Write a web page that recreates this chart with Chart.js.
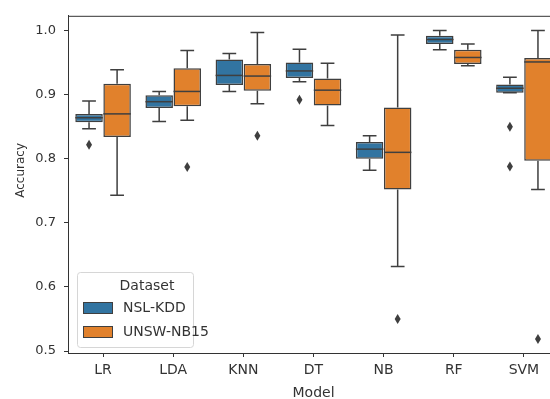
<!DOCTYPE html>
<html><head><meta charset="utf-8">
<script src="https://cdn.jsdelivr.net/npm/chart.js@4/dist/chart.umd.min.js"></script>
<style>
html,body{margin:0;padding:0;overflow:hidden;background:#fff;width:550px;height:399px}
#wrap{width:562px;height:399px;position:relative}
</style>
</head><body>
<div id="wrap"><canvas id="c"></canvas></div>
<script>
const models = ['LR','LDA','KNN','DT','NB','RF','SVM'];
const seriesNames = ['NSL-KDD','UNSW-NB15'];
const yTicks = [0.5,0.6,0.7,0.8,0.9,1.0];

// NSL-KDD box statistics
const nslWhiskerLow  = [0.847,0.858,0.905,0.920,0.782,0.970,0.903];
const nslQ1          = [0.857,0.879,0.915,0.926,0.800,0.979,0.903];
const nslMedian      = [0.864,0.889,0.930,0.937,0.815,0.986,0.910];
const nslQ3          = [0.870,0.899,0.955,0.950,0.826,0.992,0.916];
const nslWhiskerHigh = [0.890,0.905,0.964,0.971,0.836,1.000,0.927];
const nslOutliers    = [[0.822],[],[],[0.892],[],[],[0.850,0.788]];

// UNSW-NB15 box statistics
const unswWhiskerLow  = [0.743,0.860,0.886,0.852,0.632,0.945,0.752];
const unswQ1          = [0.834,0.882,0.906,0.883,0.752,0.948,0.797];
const unswMedian      = [0.870,0.905,0.929,0.907,0.810,0.958,0.951];
const unswQ3          = [0.917,0.941,0.948,0.925,0.880,0.970,0.957];
const unswWhiskerHigh = [0.939,0.969,0.997,0.949,0.993,0.979,1.000];
const unswOutliers    = [[],[0.787],[0.836],[],[0.550],[],[0.519]];

const stats = [
  {lo:nslWhiskerLow, q1:nslQ1, med:nslMedian, q3:nslQ3, hi:nslWhiskerHigh, out:nslOutliers},
  {lo:unswWhiskerLow, q1:unswQ1, med:unswMedian, q3:unswQ3, hi:unswWhiskerHigh, out:unswOutliers}
];
const fillColors = ['#3274a1','#e1812c'];
const edge = '#3f3f3f';
const textColor = '#333333';
const fontFamily = "'DejaVu Sans', sans-serif";

const boxPlugin = {
  id: 'boxExtras',
  beforeDatasetsDraw(chart) {
    const ctx = chart.ctx, ys = chart.scales.y;
    ctx.save();
    ctx.strokeStyle = edge; ctx.lineWidth = 1.5;
    stats.forEach((s, i) => {
      const meta = chart.getDatasetMeta(i);
      meta.data.forEach((bar, j) => {
        const x = bar.x, cw = bar.width / 4;
        const pairs = [[s.q3[j], s.hi[j]], [s.q1[j], s.lo[j]]];
        pairs.forEach(([a, b]) => {
          const ya = ys.getPixelForValue(a), yb = ys.getPixelForValue(b);
          ctx.beginPath();
          ctx.moveTo(x, ya); ctx.lineTo(x, yb);
          ctx.moveTo(x - cw, yb); ctx.lineTo(x + cw, yb);
          ctx.stroke();
        });
      });
    });
    ctx.restore();
  },
  afterDatasetsDraw(chart) {
    const ctx = chart.ctx, ys = chart.scales.y;
    ctx.save();
    stats.forEach((s, i) => {
      const meta = chart.getDatasetMeta(i);
      meta.data.forEach((bar, j) => {
        const x = bar.x, hw = bar.width / 2;
        const ym = ys.getPixelForValue(s.med[j]);
        ctx.strokeStyle = edge; ctx.lineWidth = 1.5;
        ctx.beginPath(); ctx.moveTo(x - hw, ym); ctx.lineTo(x + hw, ym); ctx.stroke();
        ctx.fillStyle = edge;
        s.out[j].forEach(v => {
          const yo = ys.getPixelForValue(v);
          ctx.beginPath();
          ctx.moveTo(x, yo - 5); ctx.lineTo(x + 3, yo); ctx.lineTo(x, yo + 5); ctx.lineTo(x - 3, yo);
          ctx.closePath(); ctx.fill();
        });
      });
    });
    // top and right spines
    const ca = chart.chartArea;
    ctx.strokeStyle = '#333'; ctx.lineWidth = 1;
    ctx.beginPath();
    ctx.moveTo(ca.left, ca.top + 0.5); ctx.lineTo(ca.right, ca.top + 0.5);
    ctx.moveTo(ca.right - 0.5, ca.top); ctx.lineTo(ca.right - 0.5, ca.bottom);
    ctx.stroke();
    // y axis title
    ctx.fillStyle = textColor;
    ctx.font = "12px " + fontFamily;
    ctx.translate(21, (ca.top + ca.bottom) / 2 - 14);
    ctx.rotate(-Math.PI / 2);
    ctx.textAlign = 'center'; ctx.textBaseline = 'middle';
    ctx.fillText('Accuracy', 0, 0);
    ctx.restore();
    // legend
    ctx.save();
    const lx = ca.left + 9, lw = 116, lh = 75, ly = ca.bottom - 6 - lh;
    ctx.fillStyle = 'rgba(255,255,255,0.8)';
    ctx.strokeStyle = '#d6d6d6'; ctx.lineWidth = 1;
    ctx.beginPath();
    if (ctx.roundRect) ctx.roundRect(lx + 0.5, ly + 0.5, lw, lh, 3); else ctx.rect(lx + 0.5, ly + 0.5, lw, lh);
    ctx.fill(); ctx.stroke();
    ctx.fillStyle = textColor;
    ctx.font = "14px " + fontFamily;
    ctx.textAlign = 'center'; ctx.textBaseline = 'middle';
    ctx.fillText('Dataset', lx + lw / 2 + 12, ly + 14);
    ctx.textAlign = 'left';
    seriesNames.forEach((name, k) => {
      const py = ly + 36 + k * 24;
      ctx.fillStyle = fillColors[k];
      ctx.fillRect(lx + 6, py - 6, 30, 12);
      ctx.strokeStyle = edge; ctx.lineWidth = 1;
      ctx.strokeRect(lx + 6.5, py - 5.5, 29, 11);
      ctx.fillStyle = textColor;
      ctx.fillText(name, lx + 46, py);
    });
    ctx.restore();
  }
};

new Chart(document.getElementById('c'), {
  type: 'bar',
  data: {
    labels: models,
    datasets: seriesNames.map((name, i) => ({
      label: name,
      data: stats[i].q1.map((q, j) => [q, stats[i].q3[j]]),
      backgroundColor: fillColors[i],
      borderColor: edge,
      borderWidth: 1.5,
      borderSkipped: false,
      categoryPercentage: 0.8,
      barPercentage: 0.98
    }))
  },
  options: {
    responsive: true,
    maintainAspectRatio: false,
    animation: false,
    devicePixelRatio: 1,
    layout: { padding: { top: 14, right: 3, left: 0, bottom: 0 } },
    plugins: { legend: { display: false }, tooltip: { enabled: false } },
    scales: {
      x: {
        type: 'category',
        offset: true,
        afterFit: s => { s.height = 46; },
        grid: { drawOnChartArea: false, offset: false, tickLength: 4, color: '#333', tickColor: '#333' },
        border: { color: '#333', width: 1 },
        ticks: { color: textColor, font: { size: 14, family: fontFamily }, padding: 5, maxRotation: 0 },
        title: { display: true, text: 'Model', color: textColor, font: { size: 14, family: fontFamily }, padding: { top: 0, bottom: -3 } }
      },
      y: {
        type: 'linear',
        min: 0.497, max: 1.023,
        afterFit: s => { s.width = 68; },
        afterBuildTicks: s => { s.ticks = yTicks.map(v => ({ value: v })); },
        grid: { drawOnChartArea: false, tickLength: 4, color: '#333', tickColor: '#333' },
        border: { color: '#333', width: 1 },
        ticks: { color: textColor, font: { size: 13, family: fontFamily }, padding: 8, callback: v => Number(v).toFixed(1) }
      }
    }
  },
  plugins: [boxPlugin]
});
</script>
</body></html>
